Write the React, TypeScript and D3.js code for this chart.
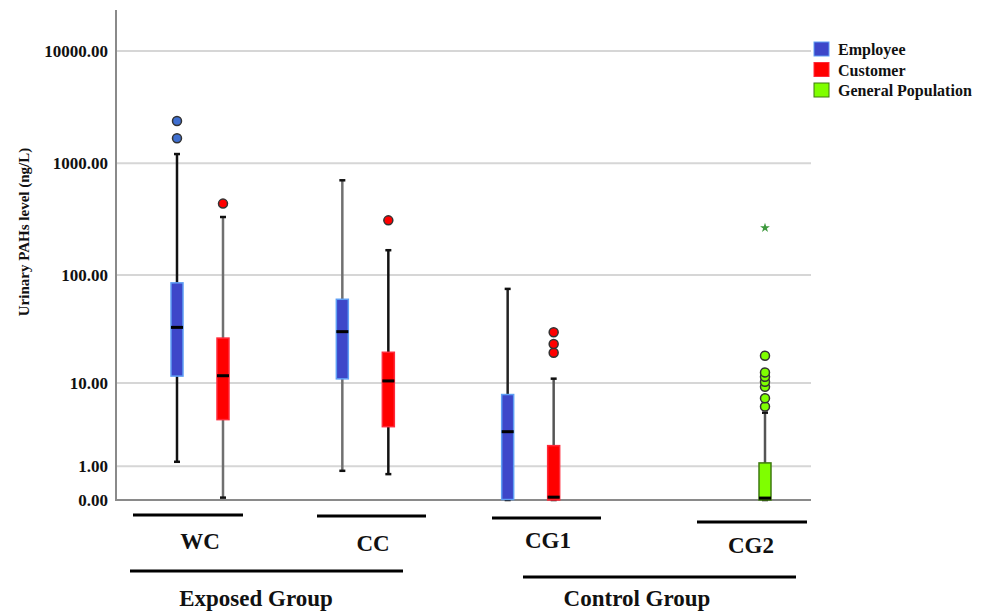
import React from "react";
import * as d3 from "d3";

// categories and series
const categories = ["WC", "CC", "CG1", "CG2"];
const series = ["Employee", "Customer", "General Population"];
const groups = ["Exposed Group", "Control Group"];
const yTicks = [0, 1, 10, 100, 1000, 10000];

// box statistics (ng/L), one entry per box
const boxCategory = ["WC", "WC", "CC", "CC", "CG1", "CG1", "CG2"];
const boxSeries = ["Employee", "Customer", "Employee", "Customer", "Employee", "Customer", "General Population"];
const whiskerLow = [1.19, 0.05, 0.82, 0.7, 0, 0, 0];
const q1 = [11.7, 4.2, 11.0, 3.5, 0.01, 0, 0];
const median = [33.5, 11.8, 30.6, 10.5, 3.06, 0.06, 0.04];
const q3 = [85, 26.7, 60.4, 19.7, 7.7, 2.05, 1.14];
const whiskerHigh = [1207, 331, 704, 167, 75, 11.05, 5.0];
const outliers = [[1667, 2380], [436], [], [309], [], [19.5, 23.5, 30.2], [5.8, 7.05, 9.2, 10.3, 11.5, 12.7, 18.3]];
const extremes = [[], [], [], [], [], [], [265]];

// styles
const fillColor: Record<string, string> = { Employee: "#3d47c9", Customer: "#ff0000", "General Population": "#7fff00" };
const edgeColor: Record<string, string> = { Employee: "#5f9ff5", Customer: "#ff2a3a", "General Population": "#3f7a10" };
const dotColor: Record<string, string> = { Employee: "#3f6fd0", Customer: "#ff0000", "General Population": "#7fff00" };
const whiskerColor = ["#111", "#707070", "#707070", "#111", "#222", "#555", "#555"];
const font = "'Liberation Serif', 'Times New Roman', serif";

export default function App() {
  const W = 987, H = 613;
  const left = 116, right = 811, bottom = 500, top = 10;

  const y = d3.scaleSymlog().constant(1).domain([0, 10000]).range([bottom, 51]);
  // clustered layout: each category holds a slot per series
  const xCat = d3.scalePoint<string>().domain(categories).range([223, 719]);
  const xSer = d3.scalePoint<string>().domain(series).range([-46, 46]);
  const fmt = d3.format(".2f");
  const boxW = 12;

  const cx = (i: number) => (xCat(boxCategory[i]) as number) + (xSer(boxSeries[i]) as number);

  // hand-drawn annotation layout under the axis
  const catLabelX = [200, 373, 548, 751];
  const catLineX = [[133, 243], [317, 426], [492, 601], [697, 807]];
  const catLineY = [515, 516, 518, 522];
  const catLabelY = [549, 551, 548, 553];
  const groupLineX = [[130, 403], [523, 796]];
  const groupTextX = [256, 637];
  const groupLineY = [571, 577];

  return (
    <svg width={W} height={H} style={{ position: "absolute", left: 0, top: 0, background: "#fff" }}>
      {/* gridlines */}
      {yTicks.filter((t) => t > 0).map((t) => (
        <line key={"g" + t} x1={left} x2={right} y1={y(t)} y2={y(t)} stroke="#d6d6d6" strokeWidth={2} />
      ))}
      {/* axes */}
      <line x1={left} x2={left} y1={top} y2={bottom} stroke="#8a8a8a" strokeWidth={2} />
      <line x1={left - 1} x2={right} y1={bottom} y2={bottom} stroke="#8a8a8a" strokeWidth={2} />
      {yTicks.map((t) => (
        <text key={"t" + t} x={108} y={y(t)} dy="0.36em" textAnchor="end" fontFamily={font} fontWeight="bold" fontSize={17} fill="#111">
          {fmt(t)}
        </text>
      ))}
      <text transform={`translate(29,232) rotate(-90)`} textAnchor="middle" fontFamily={font} fontWeight="bold" fontSize={15} fill="#111">
        Urinary PAHs level (ng/L)
      </text>

      {/* boxes */}
      {boxCategory.map((_, i) => {
        const x = cx(i);
        const s = boxSeries[i];
        return (
          <g key={"b" + i}>
            <line x1={x} x2={x} y1={y(whiskerLow[i])} y2={y(whiskerHigh[i])} stroke={whiskerColor[i]} strokeWidth={2.5} />
            <line x1={x - 3} x2={x + 3} y1={y(whiskerLow[i])} y2={y(whiskerLow[i])} stroke="#111" strokeWidth={2.5} />
            <line x1={x - 3} x2={x + 3} y1={y(whiskerHigh[i])} y2={y(whiskerHigh[i])} stroke="#111" strokeWidth={2.5} />
            <rect
              x={x - boxW / 2}
              y={y(q3[i])}
              width={boxW}
              height={Math.max(y(q1[i]) - y(q3[i]), 1)}
              fill={fillColor[s]}
              stroke={edgeColor[s]}
              strokeWidth={1.5}
            />
            <line x1={x - boxW / 2} x2={x + boxW / 2} y1={Math.min(y(median[i]), bottom - 1.5)} y2={Math.min(y(median[i]), bottom - 1.5)} stroke="#000" strokeWidth={3} />
            {outliers[i].map((v, j) => (
              <circle key={j} cx={x} cy={y(v)} r={4.5} fill={dotColor[s]} stroke="#333" strokeWidth={1.5} />
            ))}
            {extremes[i].map((v, j) => (
              <path key={"e" + j} transform={`translate(${x},${y(v)})`} d={d3.symbol(d3.symbolStar, 30)() as string} fill="#3f9a3f" />
            ))}
          </g>
        );
      })}

      {/* category annotations */}
      {categories.map((c, k) => (
        <g key={"c" + c}>
          <line x1={catLineX[k][0]} x2={catLineX[k][1]} y1={catLineY[k]} y2={catLineY[k]} stroke="#000" strokeWidth={3} />
          <text x={catLabelX[k]} y={catLabelY[k]} textAnchor="middle" fontFamily={font} fontWeight="bold" fontSize={23} fill="#111">
            {c}
          </text>
        </g>
      ))}
      {groups.map((g, k) => (
        <g key={"gr" + g}>
          <line x1={groupLineX[k][0]} x2={groupLineX[k][1]} y1={groupLineY[k]} y2={groupLineY[k]} stroke="#000" strokeWidth={3} />
          <text x={groupTextX[k]} y={606} textAnchor="middle" fontFamily={font} fontWeight="bold" fontSize={23} fill="#111">
            {g}
          </text>
        </g>
      ))}

      {/* legend */}
      {series.map((s, k) => (
        <g key={"l" + s} transform={`translate(814,${42 + k * 20.5})`}>
          <rect x={0} y={0} width={15} height={14} fill={fillColor[s]} stroke={edgeColor[s]} strokeWidth={1} />
          <text x={24} y={13} fontFamily={font} fontWeight="bold" fontSize={16} fill="#111">
            {s}
          </text>
        </g>
      ))}
    </svg>
  );
}
